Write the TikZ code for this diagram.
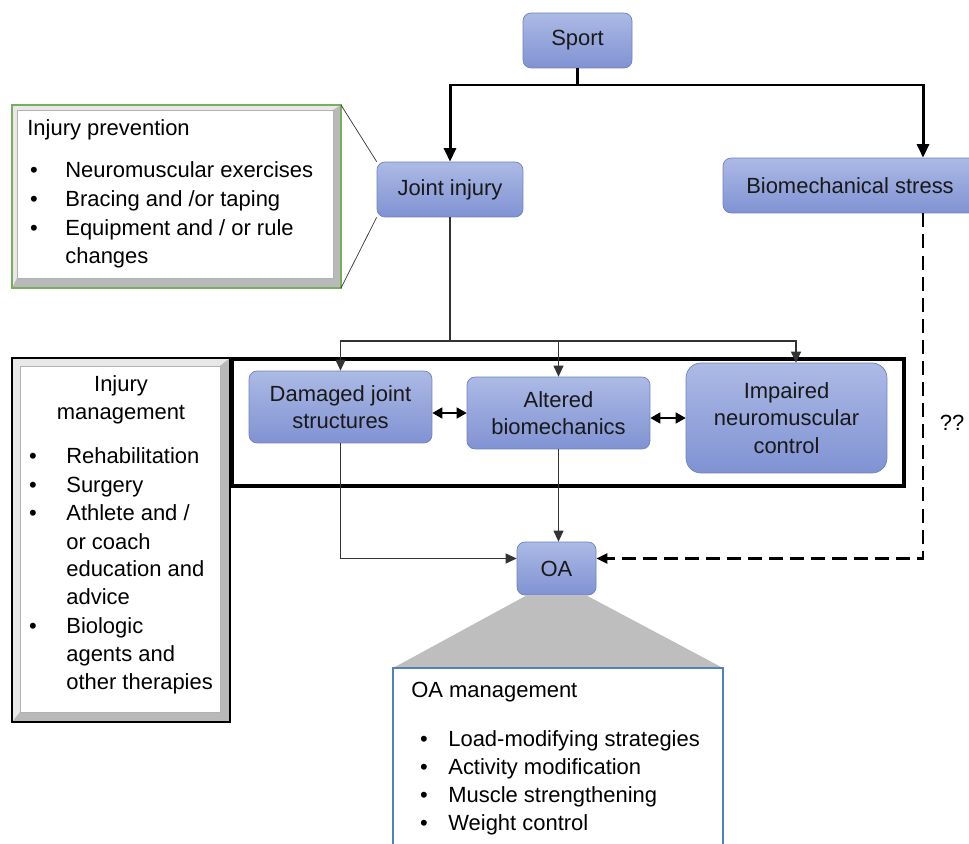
\documentclass[tikz,border=0pt]{standalone}
\usepackage{fontspec}
\setmainfont{Liberation Sans}
\usetikzlibrary{arrows.meta}
\definecolor{bxtop}{RGB}{172,186,229}
\definecolor{bxbot}{RGB}{128,146,211}
\definecolor{bxline}{RGB}{112,128,192}
\definecolor{ipgreen}{RGB}{120,175,90}
\definecolor{oablue}{RGB}{79,129,189}
\definecolor{trap}{RGB}{190,190,190}
\tikzset{
  blk/.style={draw=bxline, top color=bxtop, bottom color=bxbot, rounded corners=0.16cm,
    align=center, inner sep=2pt, text=black!90},
  txt/.style={anchor=base west, inner sep=0pt},
  bul/.style={anchor=base, inner sep=0pt},
  cn/.style={line width=0.6pt, draw=black!80},
  bigtip/.style={>={Triangle[length=0.27cm,width=0.24cm]}},
}
\begin{document}
\begin{tikzpicture}[x=0.02cm, y=-0.02cm, font=\fontsize{12.5}{15.5}\selectfont,
  >={Triangle[length=0.22cm,width=0.2cm]}]
\useasboundingbox (0,0) rectangle (969,844);
% boxes
\node[blk, minimum width=2.18cm, minimum height=1.1cm] (S) at (577.5,40.5) {Sport};
\node[blk, minimum width=2.92cm, minimum height=1.1cm] (J) at (450,189.5) {Joint injury};
\node[blk, minimum width=5.08cm, minimum height=1.1cm] (B) at (850,185.5) {Biomechanical stress};
\node[blk, minimum width=3.66cm, minimum height=1.44cm] (D) at (340.5,407) {Damaged joint\\structures};
\node[blk, minimum width=3.66cm, minimum height=1.44cm] (A) at (558.5,413) {Altered\\biomechanics};
\node[blk, minimum width=4.02cm, minimum height=2.2cm, rounded corners=0.3cm] (I) at (786.5,418) {Impaired\\neuromuscular\\control};
\node[blk, minimum width=1.58cm, minimum height=1.06cm] (O) at (556.5,568.5) {OA};
\node[inner sep=0pt] (q) at (952,423) {??};
% big frame
\draw[line width=1.8pt] (232,359) rectangle (904,486);
% Sport branches
\coordinate (t) at (577.5,85);
\coordinate (bx) at (923,85);
\draw[line width=1.7pt] (S.south) -- (t);
\draw[line width=1.7pt, ->, bigtip] (t) -| (J.north);
\draw[line width=1.7pt, ->, bigtip] (t) -- (bx) -- (bx |- B.north);
% joint injury branches
\coordinate (j) at (450,341);
\draw[cn] (J.south) -- (j);
\draw[cn, ->] (j) -| (D.north);
\draw[cn, ->] (j) -| (A.north);
\draw[cn, ->] (j) -| ([xshift=0.19cm]I.north);
\draw[line width=0.9pt, <->, >={Triangle[length=0.2cm,width=0.22cm]}] (D.east |- A.west) -- (A.west);
\draw[line width=0.9pt, <->, >={Triangle[length=0.2cm,width=0.22cm]}] (A.east |- I.west) -- (I.west);
% to OA
\draw[cn, ->] (D.south) |- ([yshift=0.2cm]O.west);
\draw[cn, ->] (A.south) -- (A.south |- O.north);
\draw[line width=1.3pt, dash pattern=on 8pt off 4pt, ->] (bx |- B.south) |- ([yshift=0.2cm]O.east);
% injury prevention
\fill[gray!18] (12,105) rectangle (341,288);
\fill[gray!55] (341,105) -- (341,288) -- (12,288) -- (17,278) -- (333,278) -- (333,110) -- cycle;
\fill[white] (17,110) rectangle (333,278);
\draw[gray!60, line width=0.3pt] (17,110) rectangle (333,278);
\draw[ipgreen, line width=0.9pt] (12,105) rectangle (341,288);
\draw[cn, line width=0.4pt] (341,105) -- (J.north west);
\draw[cn, line width=0.4pt] (341,288) -- (J.south west);
\node[txt] (ipT) at (27,136) {Injury prevention};
\foreach \y/\t [count=\i] in {178/{Neuromuscular exercises}, 207/{Bracing and /or taping},
  236/{Equipment and / or rule}, 264/changes}
  \node[txt] (ip\i) at (65,\y) {\t};
\foreach \y [count=\i] in {178,207,236}
  \node[bul] (ipb\i) at (34,\y) {\textbullet};
% injury management
\fill[gray!18] (12,358) rectangle (230,722);
\fill[gray!55] (230,358) -- (230,722) -- (12,722) -- (20,712) -- (220,712) -- (220,366) -- cycle;
\fill[white] (20,366) rectangle (220,712);
\draw[gray!60, line width=0.3pt] (20,366) rectangle (220,712);
\draw[black, line width=0.8pt] (12,358) rectangle (230,722);
\node[anchor=base, inner sep=0pt] (imT1) at (121,391) {Injury};
\node[anchor=base, inner sep=0pt] (imT2) at (121,419) {management};
\foreach \y/\t [count=\i] in {463/Rehabilitation, 492/Surgery, 520/{Athlete and /}, 549/or coach,
  576/education and, 604/advice, 633/Biologic, 661/agents and, 689/other therapies}
  \node[txt] (im\i) at (66,\y) {\t};
\foreach \y [count=\i] in {463,492,520,633}
  \node[bul] (imb\i) at (33,\y) {\textbullet};
% OA management
\fill[trap] ([xshift=0.2cm]O.south west) -- ([xshift=-0.2cm]O.south east) -- (723,668) -- (393,668) -- cycle;
\draw[oablue, line width=1.1pt, fill=white] (393,668) rectangle (723,850);
\node[txt] (oaT) at (411,697) {OA management};
\foreach \y/\t [count=\i] in {746/Load-modifying strategies, 774/Activity modification,
  802/Muscle strengthening, 830/Weight control}
  \node[txt] (oa\i) at (448,\y) {\t};
\foreach \y [count=\i] in {746,774,802,830}
  \node[bul] (oab\i) at (424,\y) {\textbullet};
\end{tikzpicture}
\end{document}
